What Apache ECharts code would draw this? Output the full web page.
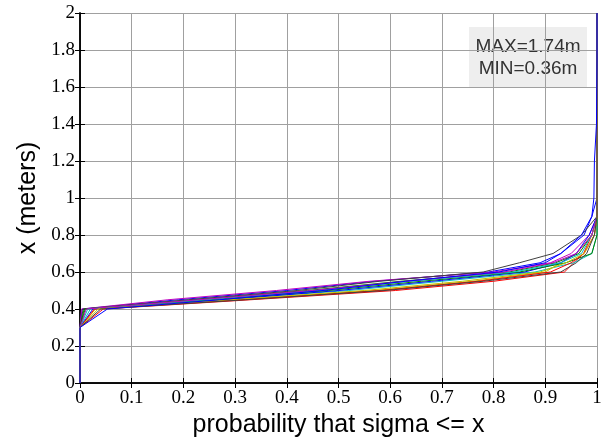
<!DOCTYPE html>
<html>
<head>
<meta charset="utf-8">
<script src="https://cdn.jsdelivr.net/npm/echarts@6/dist/echarts.min.js"></script>
<style>
html,body{margin:0;padding:0;background:#fff;}
#chart{width:606px;height:444px;}
</style>
</head>
<body>
<div id="chart"></div>
<script>
// sigma levels (y, meters) at which each curve's probability is given
const yLevels = [0, 0.3, 0.4, 0.45, 0.5, 0.55, 0.6, 0.65, 0.7, 0.8, 0.9, 1.0, 1.2, 1.4, 1.74, 2.0];
// probability that sigma <= y for each curve
const p01 = [0, 0, 0.004, 0.19, 0.40, 0.57, 0.79, 0.89, 0.93, 0.975, 0.99, 1, 1, 1, 1, 1];
const p02 = [0, 0, 0.010, 0.22, 0.44, 0.62, 0.83, 0.92, 0.965, 0.99, 1, 1, 1, 1, 1, 1];
const p03 = [0, 0, 0.045, 0.33, 0.61, 0.80, 0.937, 0.955, 0.974, 0.99, 1, 1, 1, 1, 1, 1];
const p04 = [0, 0, 0.020, 0.27, 0.52, 0.70, 0.88, 0.955, 0.99, 1, 1, 1, 1, 1, 1, 1];
const p05 = [0, 0, 0.003, 0.17, 0.38, 0.56, 0.80, 0.91, 0.95, 0.985, 1, 1, 1, 1, 1, 1];
const p06 = [0, 0, 0.030, 0.30, 0.57, 0.76, 0.90, 0.93, 0.96, 0.99, 1, 1, 1, 1, 1, 1];
const p07 = [0, 0, 0.006, 0.21, 0.42, 0.58, 0.78, 0.85, 0.915, 0.97, 1, 1, 1, 1, 1, 1];
const p08 = [0, 0, 0.025, 0.28, 0.50, 0.68, 0.86, 0.93, 0.96, 0.985, 1, 1, 1, 1, 1, 1];
const p09 = [0, 0, 0.008, 0.25, 0.48, 0.66, 0.85, 0.94, 0.99, 1, 1, 1, 1, 1, 1, 1];
const p10 = [0, 0, 0.028, 0.31, 0.58, 0.77, 0.91, 0.95, 0.975, 0.995, 1, 1, 1, 1, 1, 1];
const p11 = [0, 0, 0.015, 0.24, 0.46, 0.64, 0.84, 0.93, 0.97, 0.99, 1, 1, 1, 1, 1, 1];
const p12 = [0, 0, 0.012, 0.23, 0.45, 0.63, 0.82, 0.915, 0.96, 0.99, 1, 1, 1, 1, 1, 1];
const p13 = [0, 0, 0.035, 0.29, 0.55, 0.74, 0.89, 0.94, 0.975, 0.995, 1, 1, 1, 1, 1, 1];
const p14 = [0, 0, 0.040, 0.32, 0.59, 0.78, 0.93, 0.96, 0.98, 0.995, 1, 1, 1, 1, 1, 1];
const p15 = [0, 0, 0.053, 0.27, 0.47, 0.63, 0.81, 0.90, 0.93, 0.97, 0.99, 0.994, 0.995, 0.999, 1, 1];
const curves = [p01, p02, p03, p04, p05, p06, p07, p08, p09, p10, p11, p12, p13, p14, p15];
const colors = ['#0000ff', '#008000', '#ff0000', '#00bfbf', '#bf00bf', '#bfbf00', '#404040'];
const boxLines = ['MAX=1.74m', 'MIN=0.36m'];

const chart = echarts.init(document.getElementById('chart'), null, {renderer: 'canvas'});
const tickFont = {fontFamily: 'Liberation Serif', fontSize: 19, color: '#000'};
const fmt = v => String(Math.round(v * 10) / 10);

const series = curves.map((p, i) => ({
  type: 'line',
  xAxisIndex: 0, yAxisIndex: 0,
  data: p.map((v, k) => [v, yLevels[k]]),
  showSymbol: false,
  symbol: 'none',
  lineStyle: {width: 1, color: colors[i % colors.length]},
  animation: false,
  silent: true
}));

const gridLeft = 80, gridTop = 13, gridRight = 9, gridBottom = 61;

chart.setOption({
  animation: false,
  backgroundColor: '#fff',
  grid: {left: gridLeft, right: gridRight, top: gridTop, bottom: gridBottom, containLabel: false},
  xAxis: [{
    type: 'value', min: 0, max: 1, interval: 0.1, position: 'bottom',
    name: 'probability that sigma <= x', nameLocation: 'middle', nameGap: 29,
    nameTextStyle: {fontFamily: 'Liberation Sans', fontSize: 25, color: '#000'},
    axisLine: {show: true, lineStyle: {color: '#000', width: 1.5}},
    axisTick: {show: true, inside: true, length: 5, lineStyle: {color: '#000'}},
    axisLabel: Object.assign({margin: 6, formatter: fmt}, tickFont),
    splitLine: {show: true, lineStyle: {color: '#a0a0a0', width: 1}}
  }, {
    type: 'value', min: 0, max: 1, interval: 0.1, position: 'top',
    axisLine: {show: true, lineStyle: {color: '#000', width: 1.5}},
    axisTick: {show: true, inside: true, length: 5, lineStyle: {color: '#000'}},
    axisLabel: {show: false}, splitLine: {show: false}
  }],
  yAxis: [{
    type: 'value', min: 0, max: 2, interval: 0.2, position: 'left',
    name: 'x (meters)', nameLocation: 'middle', nameGap: 38,
    nameTextStyle: {fontFamily: 'Liberation Sans', fontSize: 25, color: '#000'},
    axisLine: {show: true, lineStyle: {color: '#000', width: 1.5}},
    axisTick: {show: true, inside: true, length: 5, lineStyle: {color: '#000'}},
    axisLabel: Object.assign({margin: 5, formatter: fmt}, tickFont),
    splitLine: {show: true, lineStyle: {color: '#a0a0a0', width: 1}}
  }, {
    type: 'value', min: 0, max: 2, interval: 0.2, position: 'right',
    axisLine: {show: true, lineStyle: {color: '#000', width: 1.5}},
    axisTick: {show: true, inside: true, length: 5, lineStyle: {color: '#000'}},
    axisLabel: {show: false}, splitLine: {show: false}
  }],
  graphic: [{
    type: 'group', left: 469, top: 27,
    children: [
      {type: 'rect', shape: {x: 0, y: 0, width: 118, height: 61}, style: {fill: '#eeeeee'}},
      {type: 'text', x: 59, y: 30.5, style: {
        text: boxLines.join('\n'), fill: '#333', font: '19px "Liberation Sans"',
        align: 'center', verticalAlign: 'middle', lineHeight: 22
      }}
    ]
  }],
  series: series
});
</script>
</body>
</html>
